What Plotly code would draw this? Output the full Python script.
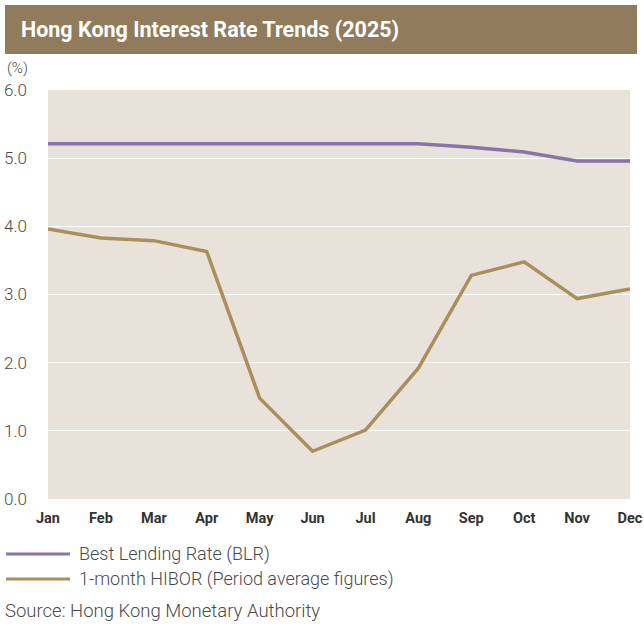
import plotly.graph_objects as go

months = ["Jan", "Feb", "Mar", "Apr", "May", "Jun", "Jul", "Aug", "Sep", "Oct", "Nov", "Dec"]
blr = [5.21, 5.21, 5.21, 5.21, 5.21, 5.21, 5.21, 5.21, 5.16, 5.09, 4.96, 4.96]
hibor = [3.96, 3.83, 3.79, 3.63, 1.48, 0.70, 1.01, 1.92, 3.28, 3.48, 2.94, 3.08]
y_ticks = [0, 1, 2, 3, 4, 5, 6]
y_tick_text = ["0.0", "1.0", "2.0", "3.0", "4.0", "5.0", "6.0"]

title_text = "Hong Kong Interest Rate Trends (2025)"
blr_name = "Best Lending Rate (BLR)"
hibor_name = "1-month HIBOR (Period average figures)"
source_text = "Source: Hong Kong Monetary Authority"

PURPLE = "#8a73a9"
GOLD = "#a88f5c"
BAR = "#907b5c"
BG = "#e9e2da"

W, H = 644, 626
L, R, T, B = 48, 14, 90, 127
pw, ph = W - L - R, H - T - B

def px(x):
    return (x - L) / pw

def py(y):
    return (H - B - y) / ph

fig = go.Figure()
fig.add_trace(go.Scatter(x=months, y=blr, mode="lines", name=blr_name,
                         line=dict(color=PURPLE, width=3.5), showlegend=False))
fig.add_trace(go.Scatter(x=months, y=hibor, mode="lines", name=hibor_name,
                         line=dict(color=GOLD, width=3.5), showlegend=False))

shapes = [
    dict(type="rect", xref="paper", yref="paper", x0=px(5), x1=px(637), y0=py(54), y1=py(5),
         fillcolor=BAR, line=dict(width=0), layer="below"),
    dict(type="line", xref="paper", yref="paper", x0=px(6), x1=px(70), y0=py(554), y1=py(554),
         line=dict(color=PURPLE, width=3)),
    dict(type="line", xref="paper", yref="paper", x0=px(6), x1=px(70), y0=py(579), y1=py(579),
         line=dict(color=GOLD, width=3)),
]

light = dict(family="Roboto", size=18, color="#4a4a4a", weight=300)
annotations = [
    dict(text=title_text, xref="paper", yref="paper", x=px(19), y=py(30), xanchor="left", yanchor="middle",
         showarrow=False, font=dict(family="Roboto", size=21.5, color="white", weight="bold")),
    dict(text="(%)", xref="paper", yref="paper", x=px(5), y=py(68), xanchor="left", yanchor="middle",
         showarrow=False, font=dict(family="Roboto", size=15, color="#4a4a4a", weight=300)),
    dict(text=blr_name, xref="paper", yref="paper", x=px(77), y=py(554), xanchor="left", yanchor="middle",
         showarrow=False, font=light),
    dict(text=hibor_name, xref="paper", yref="paper", x=px(77), y=py(579), xanchor="left", yanchor="middle",
         showarrow=False, font=light),
    dict(text=source_text, xref="paper", yref="paper", x=px(3), y=py(611), xanchor="left", yanchor="middle",
         showarrow=False, font=dict(family="Roboto", size=18.5, color="#4a4a4a", weight=300)),
]

fig.update_layout(
    width=W, height=H,
    margin=dict(l=L, r=R, t=T, b=B),
    paper_bgcolor="white", plot_bgcolor=BG,
    shapes=shapes, annotations=annotations,
    xaxis=dict(range=[0, 11], showgrid=False, zeroline=False, showline=False, ticks="",
               tickfont=dict(family="Roboto", size=14.5, color="#333333", weight="bold"),
               ticklabelstandoff=8, fixedrange=True, automargin=False),
    yaxis=dict(range=[0, 6], tickvals=y_ticks, ticktext=y_tick_text, showgrid=True,
               gridcolor="white", gridwidth=1.2, zeroline=False, showline=False, ticks="",
               tickfont=dict(family="Roboto", size=17, color="#4a4a4a", weight=300),
               ticklabelstandoff=20, fixedrange=True, automargin=False),
    showlegend=False,
)

fig.write_html("out.html", config={"displayModeBar": False},
               post_script="document.body.style.margin='0';document.body.style.overflow='hidden';")
